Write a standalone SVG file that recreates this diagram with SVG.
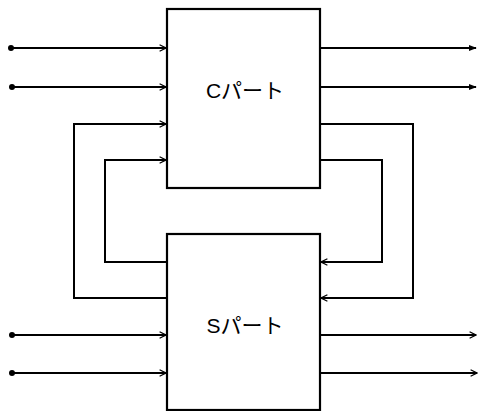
<svg xmlns="http://www.w3.org/2000/svg" width="479" height="411" viewBox="0 0 479 411">
<defs>
<marker id="arr" viewBox="0 0 10 10" refX="9" refY="5" markerWidth="8" markerHeight="8" markerUnits="userSpaceOnUse" orient="auto">
<path d="M1,1 L9,5 L1,9" fill="none" stroke="#000" stroke-width="1.6"/>
</marker>
<marker id="arrs" viewBox="0 0 10 10" refX="9" refY="5" markerWidth="8" markerHeight="8" markerUnits="userSpaceOnUse" orient="auto">
<path d="M0,1 L10,5 L0,9 Z" fill="#000"/>
</marker>
</defs>
<style>
.box{fill:#fff;stroke:#000;stroke-width:2.2}
.ln{fill:none;stroke:#000;stroke-width:2}
.lbl{font-family:"Liberation Sans","Noto Sans CJK JP",sans-serif;font-size:21px;fill:#000}
</style>
<rect width="479" height="411" fill="#fff"/>
<g id="connectors">
<circle cx="11" cy="48" r="3"/>
<circle cx="12" cy="87" r="3"/>
<path class="ln" d="M11,48 H166" marker-end="url(#arr)"/>
<path class="ln" d="M12,87 H166" marker-end="url(#arr)"/>
<path class="ln" d="M320,48 H476" marker-end="url(#arrs)"/>
<path class="ln" d="M320,87 H476" marker-end="url(#arrs)"/>
<path class="ln" d="M167,298 H74 V124 H166" marker-end="url(#arr)"/>
<path class="ln" d="M167,262 H105 V160 H166" marker-end="url(#arr)"/>
<path class="ln" d="M320,124 H413 V298 H321" marker-end="url(#arr)"/>
<path class="ln" d="M320,160 H382 V262 H321" marker-end="url(#arr)"/>
<circle cx="12" cy="335" r="3"/>
<circle cx="12" cy="373" r="3"/>
<path class="ln" d="M12,335 H166" marker-end="url(#arr)"/>
<path class="ln" d="M12,373 H166" marker-end="url(#arr)"/>
<path class="ln" d="M320,335 H476" marker-end="url(#arr)"/>
<path class="ln" d="M320,373 H477" marker-end="url(#arr)"/>
</g>
<g id="cpart">
<rect class="box" x="167" y="9" width="153" height="179"/>
<text class="lbl" x="245" y="98" text-anchor="middle">Cパート</text>
</g>
<g id="spart">
<rect class="box" x="167" y="234" width="153" height="176"/>
<text class="lbl" x="245" y="333" text-anchor="middle">Sパート</text>
</g>
</svg>
